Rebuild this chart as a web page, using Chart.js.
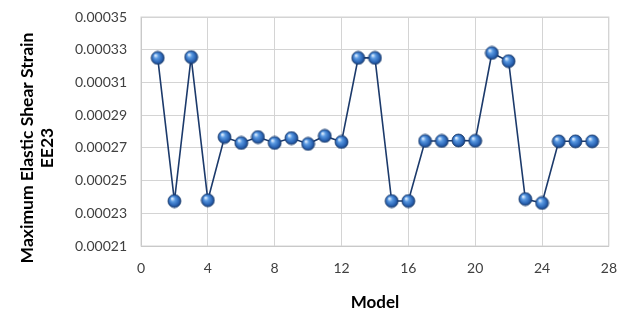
<!DOCTYPE html>
<html>
<head>
<meta charset="utf-8">
<script src="https://cdn.jsdelivr.net/npm/chart.js@4.4.0/dist/chart.umd.min.js"></script>
<style>
  html, body { margin: 0; padding: 0; background: #fff; }
  #wrap { width: 631px; height: 317px; }
</style>
</head>
<body>
<div id="wrap"><canvas id="strainChart"></canvas></div>
<script>
const models = [1, 2, 3, 4, 5, 6, 7, 8, 9, 10, 11, 12, 13, 14, 15, 16, 17, 18, 19, 20, 21, 22, 23, 24, 25, 26, 27];
const ee23 = [0.000325, 0.0002375, 0.0003255, 0.000238, 0.0002766, 0.000273, 0.0002766, 0.000273, 0.000276, 0.0002724,
              0.0002773, 0.0002736, 0.000325, 0.000325, 0.0002375, 0.0002375, 0.0002742, 0.0002742, 0.0002745, 0.0002743,
              0.000328, 0.000323, 0.0002387, 0.0002363, 0.000274, 0.000274, 0.000274];
const yTitle = ['Maximum Elastic Shear Strain', 'EE23'];
const xMin = 0, xMax = 28, xStep = 4;
const yMin = 0.00021, yMax = 0.00035, yStep = 0.00002;

// shaded ball marker
function makeBall(r) {
    const c = document.createElement('canvas');
    const s = r * 2 + 2;
    c.width = s; c.height = s;
    const g = c.getContext('2d');
    const cx = s / 2, cy = s / 2;
    const grad = g.createRadialGradient(cx - r * 0.35, cy - r * 0.4, r * 0.1, cx, cy, r);
    grad.addColorStop(0, '#d6e8fc');
    grad.addColorStop(0.3, '#5a9ae2');
    grad.addColorStop(0.75, '#2a64b4');
    grad.addColorStop(1, '#163c78');
    g.beginPath();
    g.arc(cx, cy, r, 0, Math.PI * 2);
    g.fillStyle = grad;
    g.fill();
    g.lineWidth = 0.8;
    g.strokeStyle = '#1b3d6e';
    g.stroke();
    return c;
}
const ball = makeBall(6.5);

new Chart(document.getElementById('strainChart'), {
    type: 'scatter',
    data: {
        datasets: [{
            data: models.map((m, i) => ({ x: m, y: ee23[i] })),
            showLine: true,
            borderColor: '#1c3a6b',
            borderWidth: 1.6,
            pointStyle: ball,
            pointRadius: 7,
            pointHoverRadius: 7
        }]
    },
    options: {
        responsive: true, maintainAspectRatio: false, animation: false,
        layout: { padding: { top: 17, right: 18, left: 0, bottom: 0 } },
        plugins: { legend: { display: false }, tooltip: { enabled: false } },
        scales: {
            x: {
                type: 'linear', min: xMin, max: xMax,
                afterFit: s => { s.height = 71; },
                ticks: { stepSize: xStep, padding: 14, color: '#404040', font: { family: 'Lato', size: 14 } },
                grid: { color: '#d4d4d4', drawTicks: false },
                border: { color: '#bfbfbf' },
                title: { display: true, text: 'Model', color: '#000', padding: { top: 1 }, font: { family: 'Lato', size: 17, weight: 'bold' } }
            },
            y: {
                min: yMin, max: yMax,
                afterFit: s => { s.width = 141; },
                ticks: { stepSize: yStep, padding: 3, color: '#404040', font: { family: 'Lato', size: 14 },
                         callback: v => v.toFixed(5) },
                grid: { color: '#d4d4d4', tickLength: 11, tickColor: 'rgba(0,0,0,0)' },
                border: { color: '#bfbfbf' }
            }
        }
    },
    plugins: [{
        id: 'frameAndTitle',
        afterDraw(chart) {
            const { ctx, chartArea: a } = chart;
            ctx.save();
            ctx.strokeStyle = '#d4d4d4';
            ctx.lineWidth = 1;
            ctx.strokeRect(a.left, a.top, a.right - a.left, a.bottom - a.top);
            ctx.translate(0, 148);
            ctx.rotate(-Math.PI / 2);
            ctx.fillStyle = '#000';
            ctx.font = 'bold 17.5px Lato';
            ctx.textAlign = 'center';
            ctx.textBaseline = 'middle';
            ctx.fillText(yTitle[0], 0, 27);
            ctx.fillText(yTitle[1], 0, 47);
            ctx.restore();
        }
    }]
});
</script>
</body>
</html>
